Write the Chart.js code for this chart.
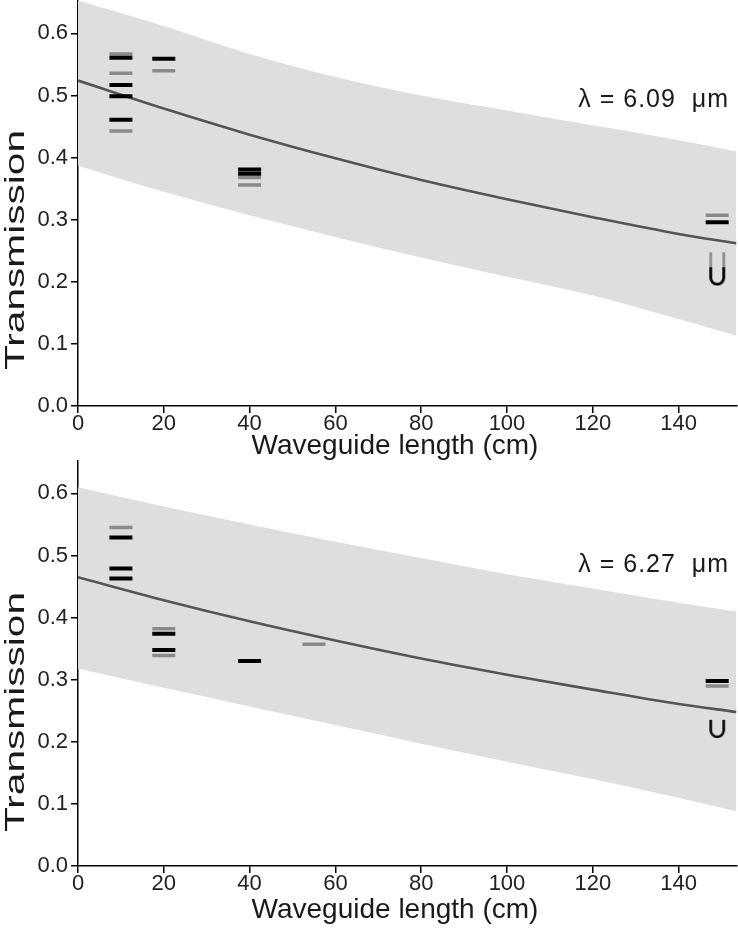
<!DOCTYPE html>
<html>
<head>
<meta charset="utf-8">
<script src="https://cdn.jsdelivr.net/npm/chart.js@4.4.1/dist/chart.umd.min.js"></script>
<style>
  body { margin: 0; background: #fff; width: 738px; height: 936px; overflow: hidden; position: relative; }
  canvas { position: absolute; left: 0; }
  #c1 { top: -15px; }
  #c2 { top: 445px; }
</style>
</head>
<body>
<canvas id="c1" width="752" height="480"></canvas>
<canvas id="c2" width="752" height="491"></canvas>
<script>
var fitX = [0, 20, 40, 60, 80, 100, 120, 140, 153.5];

// lambda = 6.09 um
var fit609   = [0.524, 0.479, 0.437, 0.399, 0.364, 0.333, 0.304, 0.277, 0.262];
var upper609 = [0.653, 0.612, 0.567, 0.530, 0.500, 0.476, 0.452, 0.428, 0.410];
var lower609 = [0.387, 0.345, 0.307, 0.272, 0.239, 0.208, 0.178, 0.140, 0.113];
var blackX609 = [10, 10, 10, 10, 20, 40, 40, 149];
var blackY609 = [0.561, 0.517, 0.499, 0.461, 0.559, 0.381, 0.374, 0.296];
var grayX609  = [10, 10, 10, 20, 40, 40, 149];
var grayY609  = [0.567, 0.536, 0.443, 0.540, 0.368, 0.356, 0.307];
var limitX609 = [149];
var limitBlackY609 = [0.209];
var limitGrayY609  = [0.221];

// lambda = 6.27 um
var fit627   = [0.465, 0.428, 0.394, 0.363, 0.334, 0.308, 0.284, 0.261, 0.248];
var upper627 = [0.610, 0.579, 0.550, 0.522, 0.496, 0.470, 0.447, 0.424, 0.410];
var lower627 = [0.318, 0.287, 0.257, 0.227, 0.197, 0.168, 0.140, 0.110, 0.088];
var blackX627 = [10, 10, 10, 20, 20, 40, 149];
var blackY627 = [0.529, 0.479, 0.463, 0.374, 0.348, 0.330, 0.298];
var grayX627  = [10, 20, 20, 55, 149];
var grayY627  = [0.545, 0.382, 0.339, 0.357, 0.290];
var limitX627 = [149];
var limitBlackY627 = [0.221];
var limitGrayY627  = [];

var xTicksMax = 153.5;
var yTicksMax = 0.653;

var FONT = "'Liberation Sans', Arial, sans-serif";

function pts(xs, ys) {
	var out = [];
	for (var i = 0; i < ys.length; i++) out.push({x: xs[i], y: ys[i]});
	return out;
}

function makeU(color, h) {
	var c = document.createElement('canvas');
	c.width = 18; c.height = h + 4;
	var g = c.getContext('2d');
	g.strokeStyle = color;
	g.lineWidth = 2.6;
	var r = 6.5;
	g.beginPath();
	g.moveTo(2.5, 1);
	g.lineTo(2.5, h + 2 - r);
	g.arc(9, h + 2 - r, r, Math.PI, 0, true);
	g.lineTo(15.5, 1);
	g.stroke();
	return c;
}

var uBlack = makeU('#000', 16);
var uGray = makeU('#8a8a8a', 31);

// text drawn straight on the canvas so it can sit where the original has it
var panelText = {
	id: 'panelText',
	afterDraw: function(chart, args, opts) {
		var ctx = chart.ctx;
		ctx.save();
		ctx.fillStyle = '#1a1a1a';
		ctx.font = '25px ' + FONT;
		ctx.letterSpacing = '1px';
		ctx.textAlign = 'right';
		ctx.textBaseline = 'middle';
		ctx.fillText(opts.label, 729, opts.labelY);
		ctx.letterSpacing = '0px';

		ctx.font = '28px ' + FONT;
		ctx.textAlign = 'center';
		ctx.fillText('Waveguide length (cm)', 395, opts.xTitleY);

		// the original's y title runs longer than its glyph size suggests
		var w = ctx.measureText('Transmission').width;
		ctx.translate(16, opts.yTitleY);
		ctx.rotate(-Math.PI / 2);
		ctx.scale(240 / w, 1);
		ctx.fillText('Transmission', 0, 0);
		ctx.restore();
	}
};

function buildChart(id, d) {
	var axisBits = {
		grid: { display: true, drawOnChartArea: false, drawTicks: true, tickLength: 7, color: '#000', lineWidth: 1.5 },
		border: { display: true, color: '#000', width: 1.5 }
	};
	return new Chart(document.getElementById(id), {
		type: 'scatter',
		data: {
			datasets: [
				{ data: pts(d.limitX, d.limitBlackY), pointStyle: uBlack, pointRadius: 9 },
				{ data: pts(d.limitX, d.limitGrayY), pointStyle: uGray, pointRadius: 9 },
				{ data: pts(d.blackX, d.blackY), pointStyle: 'line', pointRadius: 11.5, pointBorderWidth: 4, pointBorderColor: '#000', pointBackgroundColor: '#000' },
				{ data: pts(d.grayX, d.grayY), pointStyle: 'line', pointRadius: 11.5, pointBorderWidth: 3.5, pointBorderColor: '#8a8a8a', pointBackgroundColor: '#8a8a8a' },
				{ data: pts(fitX, d.fit), showLine: true, pointRadius: 0, borderColor: '#555', borderWidth: 2.6, cubicInterpolationMode: 'monotone' },
				{ data: pts(fitX, d.upper), showLine: true, pointRadius: 0, borderWidth: 0, borderColor: 'rgba(0,0,0,0)', backgroundColor: '#dedede', fill: '+1', cubicInterpolationMode: 'monotone' },
				{ data: pts(fitX, d.lower), showLine: true, pointRadius: 0, borderWidth: 0, borderColor: 'rgba(0,0,0,0)', cubicInterpolationMode: 'monotone' }
			]
		},
		options: {
			responsive: false,
			animation: false,
			events: [],
			layout: { padding: { top: 0, right: 2, left: 0, bottom: 0 } },
			plugins: {
				legend: { display: false },
				tooltip: { enabled: false },
				panelText: { label: d.label, labelY: d.labelY, xTitleY: d.xTitleY, yTitleY: d.yTitleY }
			},
			scales: {
				x: Object.assign({
					type: 'linear', min: 0, max: xTicksMax,
					ticks: { stepSize: 20, includeBounds: false, padding: -2, color: '#222', font: { family: FONT, size: 22 } },
					afterFit: function(s) { s.height = d.xAxisH; s.paddingLeft = 0; s.paddingRight = 0; }
				}, axisBits),
				y: Object.assign({
					type: 'linear', min: 0, max: yTicksMax,
					ticks: { stepSize: 0.1, includeBounds: false, padding: 3, color: '#222', font: { family: FONT, size: 22 },
						callback: function(v) { return v.toFixed(1); } },
					afterFit: function(s) { s.width = 78; s.paddingTop = 0; s.paddingBottom = 0; }
				}, axisBits)
			}
		},
		plugins: [panelText]
	});
}

buildChart('c1', {
	fit: fit609, upper: upper609, lower: lower609,
	blackX: blackX609, blackY: blackY609, grayX: grayX609, grayY: grayY609,
	limitX: limitX609, limitBlackY: limitBlackY609, limitGrayY: limitGrayY609,
	label: 'λ = 6.09  μm', labelY: 115, xTitleY: 461, yTitleY: 265,
	xAxisH: 59
});

buildChart('c2', {
	fit: fit627, upper: upper627, lower: lower627,
	blackX: blackX627, blackY: blackY627, grayX: grayX627, grayY: grayY627,
	limitX: limitX627, limitBlackY: limitBlackY627, limitGrayY: limitGrayY627,
	label: 'λ = 6.27  μm', labelY: 120, xTitleY: 465, yTitleY: 267,
	xAxisH: 70
});
</script>
</body>
</html>
